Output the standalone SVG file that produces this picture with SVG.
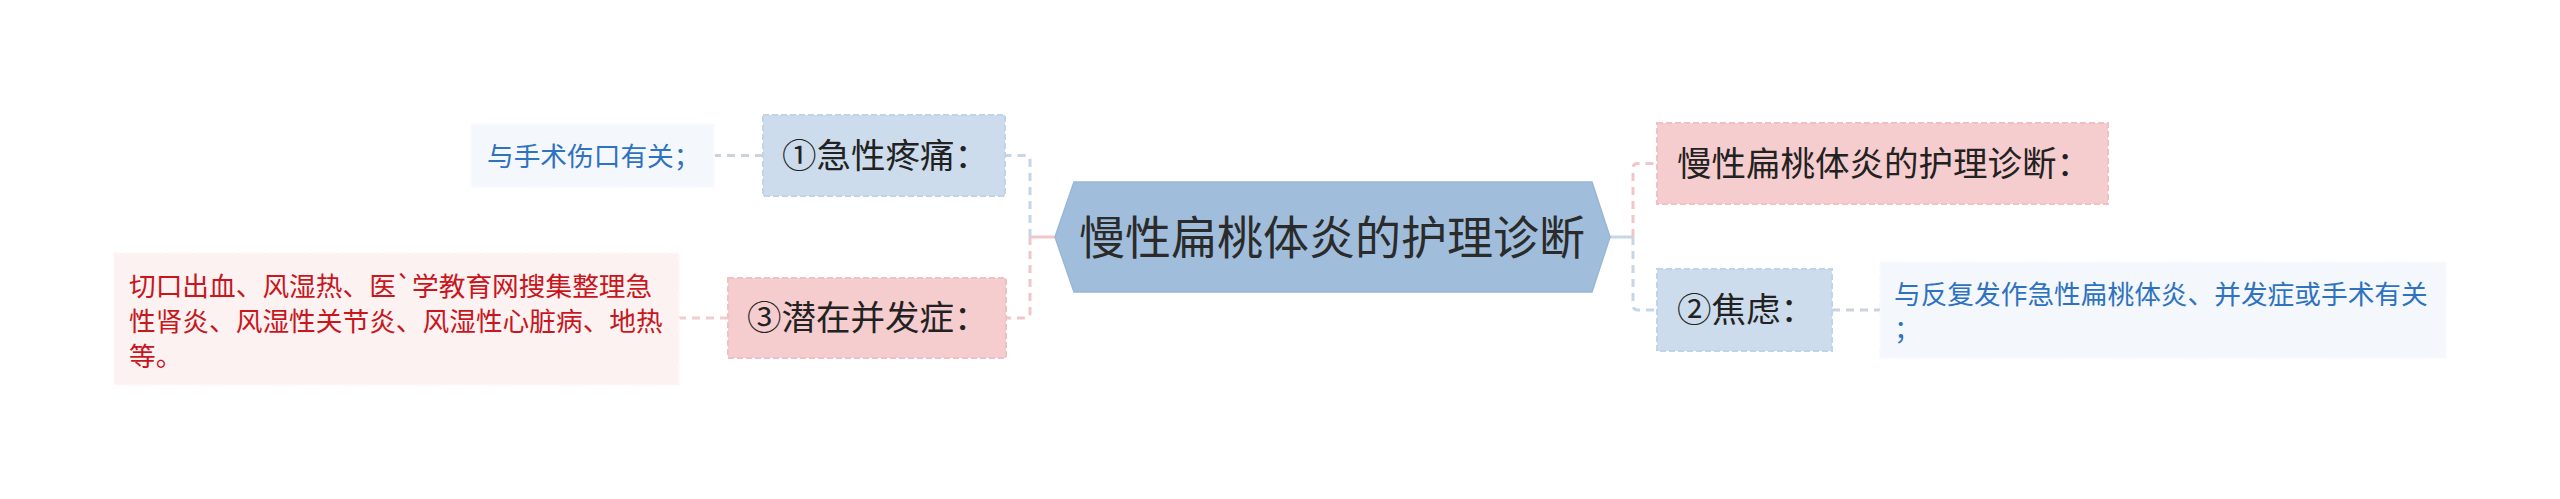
<svg xmlns="http://www.w3.org/2000/svg" width="2560" height="499" viewBox="0 0 2560 499">
<defs>
<style>
text{font-family:"Noto Sans CJK SC","Noto Sans",sans-serif;}
.root{font-size:46px;fill:#2b2b2b;}
.l1{font-size:34.5px;fill:#222;}
.leaf{font-size:26.7px;}
.blue{fill:#2f72bf;}
.red{fill:#c8161d;}
.nb{fill:#ccdcec;stroke:#c0d3e7;stroke-width:2;stroke-dasharray:6 3;}
.np{fill:#f6cdce;stroke:#f0c1c3;stroke-width:2;stroke-dasharray:6 3;}
.lb{fill:#f4f8fc;stroke:#f8fafd;stroke-width:2;stroke-dasharray:6 3;}
.lp{fill:#fcf2f2;stroke:#fdf7f7;stroke-width:2;stroke-dasharray:6 3;}
.c{fill:none;stroke-width:3;}
.cd{stroke-dasharray:8 6;}
.cb{stroke:#c6d6e7;}
.cp{stroke:#f2c5c8;}
.cg{stroke:#c9d4df;}
.cr{stroke:#f1cdcf;}
</style>
</defs>
<rect x="0" y="0" width="2560" height="499" fill="#ffffff"/>
<g id="connectors">
<path class="c cp" d="M1055,237 H1030"/>
<path class="c cd cb" d="M1030,237 V160 Q1030,155.5 1025,155.5 H1005"/>
<path class="c cd cp" d="M1030,237 V313 Q1030,318 1025,318 H1006"/>
<path class="c cd cg" d="M763,155.5 H714"/>
<path class="c cd cr" d="M728,318 H679"/>
<path class="c cb" d="M1610,237 H1633"/>
<path class="c cd cp" d="M1633,237 V168 Q1633,163.5 1638,163.5 H1657"/>
<path class="c cd cb" d="M1633,237 V305 Q1633,310 1638,310 H1657"/>
<path class="c cd cg" d="M1832,310 H1880"/>
</g>
<g id="root">
<polygon points="1055,237 1074,182 1592,182 1610,237 1592,292 1074,292" fill="#a0bedb" stroke="#98b7d6" stroke-width="1.5"/>
<text class="root" x="1332" y="254" text-anchor="middle">慢性扁桃体炎的护理诊断</text>
</g>
<g id="n1">
<rect class="nb" x="763" y="115" width="242" height="81"/>
<text class="l1" x="782" y="168">①急性疼痛：</text>
</g>
<g id="n1-leaf">
<rect class="lb" x="471" y="124" width="243" height="63"/>
<text class="leaf blue" x="487" y="165.5">与手术伤口有关；</text>
</g>
<g id="n3">
<rect class="np" x="728" y="278" width="278" height="80"/>
<text class="l1" x="747" y="330">③潜在并发症：</text>
</g>
<g id="n3-leaf">
<rect class="lp" x="114" y="253" width="565" height="132"/>
<text class="leaf red" x="129" y="296">切口出血、风湿热、医`学教育网搜集整理急</text>
<text class="leaf red" x="129" y="331">性肾炎、风湿性关节炎、风湿性心脏病、地热</text>
<text class="leaf red" x="129" y="366">等。</text>
</g>
<g id="n0">
<rect class="np" x="1657" y="123" width="451" height="81"/>
<text class="l1" x="1677" y="176">慢性扁桃体炎的护理诊断：</text>
</g>
<g id="n2">
<rect class="nb" x="1657" y="269" width="175" height="82"/>
<text class="l1" x="1677" y="322">②焦虑：</text>
</g>
<g id="n2-leaf">
<rect class="lb" x="1880" y="262" width="566" height="96"/>
<text class="leaf blue" x="1894" y="304">与反复发作急性扁桃体炎、并发症或手术有关</text>
<text class="leaf blue" x="1894" y="339">；</text>
</g>
</svg>
